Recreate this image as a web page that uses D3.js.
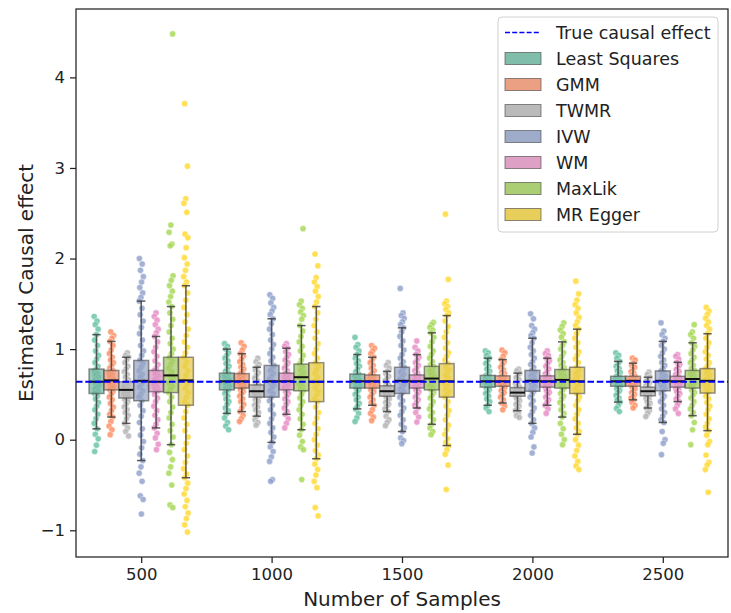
<!DOCTYPE html>
<html>
<head>
<meta charset="utf-8">
<script src="https://cdn.jsdelivr.net/npm/d3@7"></script>
<style>
  body { margin: 0; background: #fff; }
  text { font-family: "DejaVu Sans", sans-serif; }
</style>
</head>
<body>
<svg id="chart" width="731" height="613"></svg>
<script>
// ---- data -------------------------------------------------------------
const sampleSizes = [500, 1000, 1500, 2000, 2500];
const methods = ["Least Squares", "GMM", "TWMR", "IVW", "WM", "MaxLik", "MR Egger"];
const methodColors = ["#66c2a5", "#fc8d62", "#b3b3b3", "#8da0cb", "#e78ac3", "#a6d854", "#ffd92f"];
const trueEffect = 0.64;
const yTicks = [-1, 0, 1, 2, 3, 4];

// box statistics, one row per method, one column per sample size
const whiskerLow = [
  [0.12, 0.29, 0.34, 0.38, 0.415],
  [0.25, 0.31, 0.38, 0.405, 0.44],
  [0.18, 0.26, 0.31, 0.32, 0.35],
  [-0.23, -0.03, 0.09, 0.18, 0.19],
  [0.13, 0.28, 0.35, 0.38, 0.42],
  [-0.055, 0.11, 0.17, 0.25, 0.265],
  [-0.42, -0.21, -0.065, 0.06, 0.10]
];
const quartile1 = [
  [0.51, 0.55, 0.57, 0.58, 0.59],
  [0.55, 0.57, 0.57, 0.59, 0.59],
  [0.46, 0.47, 0.48, 0.48, 0.485],
  [0.43, 0.47, 0.51, 0.535, 0.54],
  [0.53, 0.55, 0.57, 0.58, 0.58],
  [0.52, 0.54, 0.55, 0.57, 0.57],
  [0.38, 0.42, 0.47, 0.51, 0.515]
];
const medians = [
  [0.64, 0.645, 0.645, 0.645, 0.645],
  [0.655, 0.645, 0.645, 0.645, 0.65],
  [0.55, 0.535, 0.535, 0.52, 0.535],
  [0.65, 0.645, 0.65, 0.65, 0.65],
  [0.64, 0.645, 0.645, 0.645, 0.645],
  [0.71, 0.69, 0.675, 0.66, 0.67],
  [0.655, 0.64, 0.645, 0.645, 0.65]
];
const quartile3 = [
  [0.78, 0.735, 0.725, 0.71, 0.70],
  [0.765, 0.73, 0.715, 0.705, 0.70],
  [0.64, 0.605, 0.595, 0.575, 0.58],
  [0.875, 0.82, 0.80, 0.765, 0.76],
  [0.765, 0.735, 0.715, 0.705, 0.70],
  [0.91, 0.835, 0.81, 0.775, 0.765],
  [0.91, 0.85, 0.84, 0.80, 0.785]
];
const whiskerHigh = [
  [1.16, 1.00, 0.94, 0.90, 0.865],
  [1.085, 0.95, 0.91, 0.885, 0.845],
  [0.91, 0.80, 0.755, 0.735, 0.69],
  [1.53, 1.335, 1.235, 1.12, 1.085],
  [1.14, 1.01, 0.94, 0.90, 0.855],
  [1.47, 1.26, 1.18, 1.08, 1.07],
  [1.70, 1.47, 1.37, 1.22, 1.17]
];

// individual simulation estimates per method, one list per sample size
const estimatesLS = [
  [1.36,1.31,1.27,1.22,1.16,1.10,1.04,0.98,0.93,0.89,0.85,0.81,0.78,0.76,0.73,0.71,0.69,0.67,0.65,0.64,0.62,0.60,0.58,0.56,0.54,0.52,0.51,0.48,0.45,0.41,0.37,0.33,0.28,0.23,0.18,0.12,0.06,0.01,-0.06,-0.13],
  [1.06,1.03,1.00,0.96,0.93,0.90,0.87,0.84,0.81,0.78,0.755,0.735,0.72,0.70,0.69,0.675,0.66,0.645,0.63,0.62,0.605,0.59,0.575,0.56,0.55,0.53,0.51,0.48,0.45,0.42,0.39,0.35,0.32,0.29,0.24,0.19,0.15,0.11],
  [1.13,1.05,1.02,0.98,0.94,0.90,0.87,0.84,0.81,0.78,0.75,0.725,0.71,0.70,0.685,0.67,0.655,0.645,0.635,0.62,0.61,0.595,0.58,0.57,0.55,0.53,0.50,0.47,0.44,0.40,0.37,0.34,0.29,0.24,0.20],
  [0.98,0.96,0.93,0.90,0.87,0.84,0.81,0.78,0.755,0.73,0.71,0.70,0.69,0.68,0.665,0.655,0.645,0.635,0.625,0.615,0.605,0.595,0.58,0.565,0.55,0.53,0.51,0.48,0.45,0.42,0.38,0.35,0.31],
  [0.96,0.93,0.90,0.865,0.84,0.81,0.785,0.76,0.74,0.72,0.70,0.69,0.68,0.67,0.66,0.65,0.645,0.635,0.625,0.615,0.605,0.59,0.575,0.56,0.54,0.52,0.49,0.46,0.44,0.415,0.38,0.345,0.31]
];
const estimatesGMM = [
  [1.19,1.15,1.12,1.085,1.04,0.99,0.95,0.91,0.88,0.85,0.82,0.79,0.765,0.75,0.73,0.71,0.69,0.67,0.655,0.64,0.62,0.60,0.585,0.57,0.55,0.53,0.50,0.47,0.44,0.40,0.36,0.32,0.28,0.25,0.20,0.15,0.11,0.055],
  [1.07,1.03,0.99,0.95,0.92,0.89,0.86,0.83,0.80,0.78,0.755,0.73,0.715,0.70,0.69,0.675,0.66,0.645,0.635,0.62,0.61,0.595,0.58,0.57,0.55,0.53,0.51,0.48,0.45,0.42,0.39,0.35,0.31,0.27,0.23,0.20],
  [1.04,1.01,0.98,0.95,0.91,0.88,0.85,0.82,0.79,0.76,0.74,0.715,0.70,0.69,0.675,0.665,0.655,0.645,0.635,0.625,0.61,0.60,0.585,0.57,0.55,0.53,0.50,0.47,0.44,0.41,0.38,0.33,0.29,0.25,0.21],
  [0.99,0.96,0.92,0.885,0.86,0.83,0.80,0.77,0.745,0.725,0.705,0.695,0.685,0.675,0.665,0.655,0.645,0.635,0.625,0.615,0.605,0.59,0.575,0.56,0.54,0.52,0.50,0.47,0.44,0.405,0.37,0.33],
  [0.90,0.88,0.845,0.82,0.80,0.775,0.75,0.73,0.715,0.70,0.69,0.68,0.67,0.66,0.65,0.64,0.63,0.62,0.61,0.60,0.59,0.575,0.56,0.54,0.52,0.50,0.48,0.46,0.44,0.41,0.38,0.35]
];
const estimatesTWMR = [
  [0.96,0.93,0.91,0.88,0.85,0.81,0.78,0.75,0.72,0.69,0.66,0.64,0.62,0.61,0.59,0.58,0.56,0.55,0.54,0.53,0.51,0.50,0.48,0.47,0.46,0.44,0.42,0.39,0.36,0.33,0.30,0.27,0.23,0.18,0.13,0.09,0.04],
  [0.90,0.86,0.83,0.80,0.77,0.74,0.71,0.68,0.65,0.63,0.605,0.59,0.58,0.57,0.56,0.55,0.54,0.535,0.525,0.515,0.505,0.495,0.485,0.47,0.455,0.44,0.42,0.40,0.38,0.36,0.33,0.30,0.26,0.22,0.19,0.16],
  [0.85,0.82,0.79,0.755,0.73,0.70,0.675,0.65,0.625,0.61,0.595,0.585,0.575,0.565,0.555,0.545,0.535,0.525,0.515,0.505,0.495,0.48,0.465,0.45,0.43,0.41,0.39,0.37,0.34,0.31,0.26,0.22,0.19,0.155],
  [0.78,0.76,0.735,0.71,0.685,0.66,0.64,0.62,0.60,0.585,0.575,0.565,0.555,0.545,0.535,0.525,0.52,0.51,0.50,0.49,0.48,0.465,0.45,0.43,0.41,0.39,0.37,0.345,0.32,0.29,0.265,0.245],
  [0.745,0.72,0.69,0.67,0.65,0.63,0.61,0.595,0.58,0.57,0.56,0.55,0.54,0.535,0.525,0.515,0.505,0.495,0.485,0.47,0.455,0.44,0.42,0.40,0.38,0.35,0.32,0.29,0.255]
];
const estimatesIVW = [
  [2.00,1.94,1.87,1.80,1.74,1.68,1.62,1.57,1.53,1.45,1.38,1.31,1.24,1.17,1.10,1.04,0.98,0.93,0.88,0.84,0.80,0.76,0.72,0.69,0.65,0.62,0.58,0.54,0.50,0.47,0.43,0.38,0.32,0.26,0.19,0.12,0.05,-0.02,-0.09,-0.16,-0.23,-0.30,-0.37,-0.46,-0.62,-0.66,-0.82],
  [1.60,1.56,1.51,1.46,1.42,1.38,1.335,1.28,1.22,1.16,1.10,1.05,1.00,0.95,0.91,0.87,0.82,0.79,0.76,0.73,0.70,0.67,0.645,0.62,0.60,0.57,0.54,0.51,0.47,0.43,0.38,0.33,0.28,0.23,0.18,0.13,0.08,0.03,-0.03,-0.08,-0.13,-0.19,-0.24,-0.44,-0.46],
  [1.67,1.40,1.37,1.34,1.30,1.27,1.235,1.19,1.14,1.09,1.04,0.99,0.94,0.90,0.86,0.83,0.80,0.77,0.745,0.72,0.695,0.67,0.65,0.63,0.61,0.585,0.56,0.535,0.51,0.47,0.43,0.39,0.35,0.31,0.27,0.22,0.17,0.13,0.09,0.02,-0.01,-0.044],
  [1.39,1.335,1.26,1.22,1.18,1.15,1.12,1.07,1.02,0.98,0.94,0.90,0.86,0.83,0.80,0.765,0.745,0.725,0.705,0.685,0.665,0.65,0.63,0.61,0.59,0.57,0.55,0.535,0.50,0.47,0.43,0.39,0.35,0.31,0.27,0.22,0.18,0.13,0.08,0.03,-0.08,-0.147],
  [1.29,1.20,1.16,1.12,1.085,1.04,1.00,0.96,0.92,0.88,0.85,0.82,0.79,0.76,0.74,0.72,0.70,0.685,0.665,0.65,0.635,0.62,0.60,0.58,0.56,0.54,0.51,0.48,0.45,0.42,0.38,0.34,0.30,0.26,0.22,0.19,0.09,0.0,-0.04,-0.165]
];
const estimatesWM = [
  [1.40,1.36,1.32,1.27,1.22,1.18,1.14,1.08,1.02,0.97,0.92,0.87,0.83,0.79,0.765,0.74,0.72,0.70,0.68,0.66,0.64,0.62,0.60,0.58,0.56,0.54,0.53,0.50,0.46,0.42,0.37,0.32,0.27,0.22,0.17,0.13,0.07,0.02,-0.05,-0.11],
  [1.06,1.03,1.01,0.97,0.94,0.91,0.88,0.85,0.82,0.79,0.76,0.735,0.72,0.705,0.69,0.675,0.66,0.645,0.63,0.615,0.60,0.585,0.57,0.55,0.53,0.51,0.48,0.45,0.42,0.39,0.35,0.31,0.28,0.23,0.18,0.13],
  [1.09,1.02,0.98,0.94,0.91,0.88,0.85,0.82,0.79,0.76,0.735,0.715,0.70,0.69,0.675,0.665,0.655,0.645,0.635,0.62,0.61,0.595,0.58,0.57,0.55,0.53,0.50,0.47,0.44,0.41,0.38,0.35,0.30,0.25,0.195],
  [0.98,0.95,0.93,0.90,0.87,0.84,0.81,0.78,0.75,0.725,0.705,0.695,0.685,0.675,0.665,0.655,0.645,0.635,0.625,0.615,0.60,0.59,0.58,0.56,0.54,0.52,0.50,0.47,0.44,0.41,0.38,0.34,0.29],
  [0.94,0.92,0.89,0.855,0.83,0.80,0.775,0.75,0.73,0.715,0.70,0.69,0.68,0.67,0.66,0.65,0.645,0.635,0.625,0.615,0.60,0.58,0.565,0.55,0.53,0.51,0.48,0.45,0.42,0.38,0.34,0.29]
];
const estimatesMaxLik = [
  [4.48,2.37,2.29,2.16,2.14,1.81,1.76,1.70,1.64,1.58,1.52,1.47,1.40,1.33,1.26,1.19,1.12,1.06,1.00,0.95,0.91,0.87,0.83,0.79,0.75,0.71,0.68,0.65,0.62,0.59,0.56,0.52,0.47,0.42,0.36,0.30,0.24,0.17,0.10,0.03,-0.055,-0.14,-0.22,-0.30,-0.37,-0.50,-0.72,-0.75],
  [2.33,1.53,1.49,1.45,1.41,1.37,1.33,1.26,1.20,1.14,1.08,1.03,0.98,0.93,0.88,0.835,0.80,0.77,0.74,0.71,0.69,0.66,0.635,0.61,0.585,0.56,0.54,0.50,0.46,0.42,0.38,0.33,0.28,0.23,0.17,0.11,0.05,-0.02,-0.08,-0.11,-0.44],
  [1.295,1.27,1.24,1.21,1.18,1.13,1.08,1.03,0.98,0.94,0.90,0.86,0.83,0.81,0.785,0.76,0.735,0.715,0.695,0.675,0.655,0.635,0.615,0.595,0.575,0.55,0.52,0.49,0.46,0.42,0.38,0.34,0.30,0.26,0.22,0.17,0.13,0.09,0.055],
  [1.29,1.25,1.21,1.17,1.13,1.08,1.04,1.00,0.96,0.92,0.88,0.85,0.82,0.795,0.775,0.755,0.735,0.715,0.695,0.675,0.66,0.645,0.63,0.615,0.60,0.585,0.57,0.54,0.51,0.48,0.45,0.41,0.37,0.33,0.29,0.25,0.18,0.12,0.06,0.0,-0.055],
  [1.27,1.19,1.16,1.12,1.07,1.03,0.99,0.95,0.91,0.88,0.85,0.82,0.79,0.765,0.745,0.725,0.705,0.69,0.67,0.655,0.64,0.625,0.61,0.595,0.57,0.545,0.52,0.49,0.46,0.42,0.38,0.34,0.30,0.265,0.19,0.11,-0.055]
];
const estimatesEgger = [
  [3.71,3.02,2.66,2.61,2.51,2.27,2.23,2.12,2.01,1.94,1.87,1.80,1.74,1.70,1.62,1.54,1.46,1.38,1.30,1.22,1.15,1.08,1.02,0.96,0.91,0.86,0.81,0.76,0.71,0.66,0.62,0.57,0.52,0.47,0.42,0.38,0.31,0.24,0.17,0.10,0.03,-0.04,-0.11,-0.18,-0.25,-0.32,-0.38,-0.42,-0.48,-0.54,-0.60,-0.67,-0.74,-0.81,-0.87,-0.94,-1.02],
  [2.05,1.92,1.79,1.74,1.69,1.64,1.58,1.52,1.47,1.40,1.33,1.26,1.19,1.12,1.06,1.00,0.95,0.90,0.85,0.81,0.77,0.73,0.69,0.66,0.64,0.61,0.57,0.53,0.49,0.45,0.42,0.36,0.30,0.24,0.18,0.12,0.06,0.00,-0.06,-0.12,-0.17,-0.21,-0.27,-0.33,-0.39,-0.46,-0.53,-0.75,-0.84],
  [2.49,1.77,1.53,1.50,1.47,1.44,1.40,1.37,1.31,1.25,1.19,1.13,1.07,1.01,0.96,0.92,0.88,0.84,0.80,0.77,0.74,0.71,0.68,0.645,0.62,0.59,0.56,0.53,0.50,0.47,0.42,0.37,0.32,0.27,0.22,0.16,0.11,0.06,0.01,-0.03,-0.065,-0.11,-0.16,-0.28,-0.55],
  [1.75,1.61,1.54,1.49,1.45,1.40,1.35,1.30,1.26,1.22,1.17,1.12,1.07,1.02,0.97,0.93,0.89,0.85,0.80,0.775,0.75,0.725,0.70,0.68,0.66,0.645,0.625,0.605,0.585,0.56,0.535,0.51,0.47,0.43,0.38,0.33,0.28,0.23,0.18,0.13,0.09,0.06,0.0,-0.06,-0.12,-0.18,-0.24,-0.29,-0.33],
  [1.46,1.42,1.38,1.34,1.30,1.26,1.22,1.17,1.12,1.07,1.02,0.97,0.93,0.89,0.85,0.815,0.785,0.76,0.735,0.71,0.69,0.67,0.65,0.63,0.61,0.585,0.56,0.54,0.515,0.48,0.45,0.41,0.37,0.33,0.28,0.23,0.18,0.14,0.10,0.05,-0.02,-0.055,-0.17,-0.25,-0.28,-0.33,-0.58]
];
const estimates = [estimatesLS, estimatesGMM, estimatesTWMR, estimatesIVW, estimatesWM, estimatesMaxLik, estimatesEgger];

// ---- layout -------------------------------------------------------------
const svg = d3.select("#chart");
const plot = { left: 76, right: 728, top: 9, bottom: 557 };

const x = d3.scaleLinear().domain([-0.5, sampleSizes.length - 0.5]).range([plot.left, plot.right]);
const y = d3.scaleLinear().domain([-1.295, 4.755]).range([plot.bottom, plot.top]);

const groupWidth = 0.8;                                   // share of a category taken by the boxes
const hueWidth = (x(1) - x(0)) * groupWidth / methods.length;
const hueCenter = (m, g) => x(g) + (m - (methods.length - 1) / 2) * hueWidth;

// muted fill colours for boxes, like seaborn's desaturated palette
const boxColor = methodColors.map(c => { const h = d3.hsl(c); h.s *= 0.75; return h.formatHex(); });
const lineGray = "#3f3f3f";

// ---- stripplot points ----------------------------------------------------
const pts = [];
estimates.forEach((byGroup, m) => byGroup.forEach((vals, g) => vals.forEach((v, i) => pts.push({ m, g, v, i }))));
const jitter = 2.3;
svg.append("g").selectAll("circle").data(pts).join("circle")
  .attr("cx", d => hueCenter(d.m, d.g) + (((d.i * 0.6180339887 + d.m * 0.37) % 1) - 0.5) * 2 * jitter)
  .attr("cy", d => y(d.v))
  .attr("r", 3.1)
  .attr("fill", d => methodColors[d.m])
  .attr("fill-opacity", 0.82)
  .attr("stroke", "#fff")
  .attr("stroke-width", 0.7)
  .attr("stroke-opacity", 0.6);

// ---- boxes ---------------------------------------------------------------
const boxes = [];
methods.forEach((name, m) => sampleSizes.forEach((n, g) => boxes.push({
  m, g,
  lo: whiskerLow[m][g], q1: quartile1[m][g], med: medians[m][g], q3: quartile3[m][g], hi: whiskerHigh[m][g]
})));

const bg = svg.append("g").selectAll("g").data(boxes).join("g");
const capHalf = hueWidth * 0.28;
// whiskers
bg.append("line")
  .attr("x1", d => hueCenter(d.m, d.g)).attr("x2", d => hueCenter(d.m, d.g))
  .attr("y1", d => y(d.hi)).attr("y2", d => y(d.q3))
  .attr("stroke", lineGray).attr("stroke-width", 1.5).attr("stroke-opacity", 0.85);
bg.append("line")
  .attr("x1", d => hueCenter(d.m, d.g)).attr("x2", d => hueCenter(d.m, d.g))
  .attr("y1", d => y(d.q1)).attr("y2", d => y(d.lo))
  .attr("stroke", lineGray).attr("stroke-width", 1.5).attr("stroke-opacity", 0.85);
// caps
["hi", "lo"].forEach(k => bg.append("line")
  .attr("x1", d => hueCenter(d.m, d.g) - capHalf).attr("x2", d => hueCenter(d.m, d.g) + capHalf)
  .attr("y1", d => y(d[k])).attr("y2", d => y(d[k]))
  .attr("stroke", lineGray).attr("stroke-width", 1.5).attr("stroke-opacity", 0.85));
// box body
bg.append("rect")
  .attr("x", d => hueCenter(d.m, d.g) - hueWidth / 2)
  .attr("width", hueWidth)
  .attr("y", d => y(d.q3))
  .attr("height", d => y(d.q1) - y(d.q3))
  .attr("fill", d => boxColor[d.m])
  .attr("fill-opacity", 0.72)
  .attr("stroke", lineGray)
  .attr("stroke-opacity", 0.55)
  .attr("stroke-width", 1.5);
// median
bg.append("line")
  .attr("x1", d => hueCenter(d.m, d.g) - hueWidth / 2).attr("x2", d => hueCenter(d.m, d.g) + hueWidth / 2)
  .attr("y1", d => y(d.med)).attr("y2", d => y(d.med))
  .attr("stroke", "#111").attr("stroke-width", 2);

// ---- true effect reference line ------------------------------------------
svg.append("line")
  .attr("x1", plot.left).attr("x2", plot.right)
  .attr("y1", y(trueEffect)).attr("y2", y(trueEffect))
  .attr("stroke", "#0000ff").attr("stroke-width", 1.8)
  .attr("stroke-dasharray", "6.5,2.8");

// ---- axes ----------------------------------------------------------------
const xAxis = d3.axisBottom(x)
  .tickValues(sampleSizes.map((_, i) => i))
  .tickFormat(i => sampleSizes[i])
  .tickSize(6).tickPadding(5).tickSizeOuter(0);
const yAxis = d3.axisLeft(y)
  .tickValues(yTicks)
  .tickFormat(d3.format("d"))
  .tickSize(6).tickPadding(5).tickSizeOuter(0);

const gx = svg.append("g").attr("transform", `translate(0,${plot.bottom})`).call(xAxis);
const gy = svg.append("g").attr("transform", `translate(${plot.left},0)`).call(yAxis);
[gx, gy].forEach(a => {
  a.select(".domain").remove();
  a.selectAll(".tick line").attr("stroke", "#222").attr("stroke-width", 1.25);
  a.selectAll(".tick text").attr("font-size", 16.5).attr("fill", "#222")
    .attr("font-family", "DejaVu Sans, sans-serif");
});

// frame
svg.append("rect")
  .attr("x", plot.left).attr("y", plot.top)
  .attr("width", plot.right - plot.left).attr("height", plot.bottom - plot.top)
  .attr("fill", "none").attr("stroke", "#222").attr("stroke-width", 1.25);

// axis titles
svg.append("text")
  .attr("x", (plot.left + plot.right) / 2).attr("y", 606)
  .attr("text-anchor", "middle").attr("font-size", 20).attr("fill", "#222")
  .text("Number of Samples");
svg.append("text")
  .attr("transform", `translate(33,${(plot.top + plot.bottom) / 2}) rotate(-90)`)
  .attr("text-anchor", "middle").attr("font-size", 20).attr("fill", "#222")
  .text("Estimated Causal effect");

// ---- legend --------------------------------------------------------------
const legend = svg.append("g").attr("transform", "translate(498,17)");
legend.append("rect")
  .attr("width", 220).attr("height", 215).attr("rx", 4)
  .attr("fill", "#fff").attr("fill-opacity", 0.8)
  .attr("stroke", "#d0d0d0").attr("stroke-width", 1);
const rowY = i => 15.5 + i * 26;
legend.append("line")
  .attr("x1", 7).attr("x2", 43).attr("y1", rowY(0)).attr("y2", rowY(0))
  .attr("stroke", "#0000ff").attr("stroke-width", 1.5).attr("stroke-dasharray", "5,2.2");
legend.append("text").attr("x", 58).attr("y", rowY(0)).attr("dy", "0.35em")
  .attr("font-size", 17.5).attr("fill", "#222").text("True causal effect");
const items = legend.selectAll("g.item").data(methods).join("g").attr("class", "item")
  .attr("transform", (d, i) => `translate(0,${rowY(i + 1)})`);
items.append("rect")
  .attr("x", 7).attr("y", -6).attr("width", 36).attr("height", 12)
  .attr("fill", (d, i) => boxColor[i]).attr("fill-opacity", 0.9)
  .attr("stroke", lineGray).attr("stroke-opacity", 0.6).attr("stroke-width", 1);
items.append("text").attr("x", 58).attr("dy", "0.35em")
  .attr("font-size", 17.5).attr("fill", "#222").text(d => d);
</script>
</body>
</html>
